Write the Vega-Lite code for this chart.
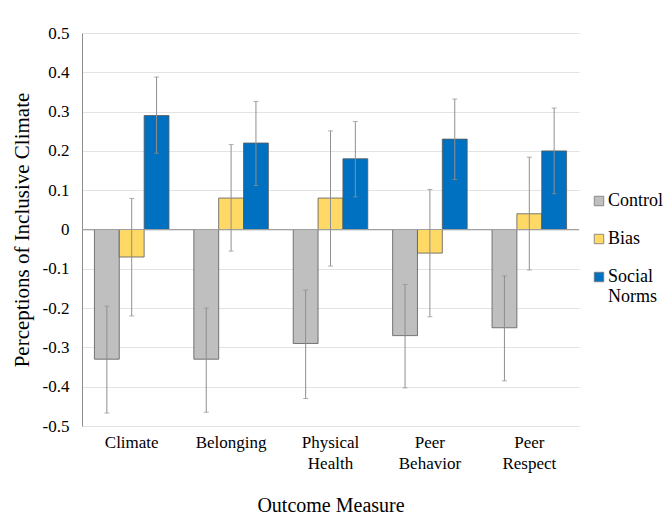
{
  "$schema": "https://vega.github.io/schema/vega-lite/v6.json",
  "width": 497,
  "height": 393,
  "autosize": {"type": "none"},
  "padding": {"left": 82, "top": 33, "right": 87, "bottom": 91},
  "background": "white",
  "config": {
    "font": "Liberation Serif",
    "view": {"stroke": null},
    "axis": {"labelFont": "Liberation Serif", "titleFont": "Liberation Serif", "labelColor": "#000", "titleColor": "#000", "titleFontWeight": "normal"},
    "legend": {"labelFont": "Liberation Serif", "labelColor": "#000"}
  },
  "resolve": {"axis": {"y": "independent"}},
  "data": {
    "values": [
      {"measure": "Climate", "cond": "Control", "value": -0.33, "lo": -0.467, "hi": -0.195},
      {"measure": "Climate", "cond": "Bias", "value": -0.07, "lo": -0.22, "hi": 0.079},
      {"measure": "Climate", "cond": "Social Norms", "value": 0.29, "lo": 0.194, "hi": 0.388},
      {"measure": "Belonging", "cond": "Control", "value": -0.33, "lo": -0.465, "hi": -0.2},
      {"measure": "Belonging", "cond": "Bias", "value": 0.08, "lo": -0.055, "hi": 0.216},
      {"measure": "Belonging", "cond": "Social Norms", "value": 0.22, "lo": 0.112, "hi": 0.326},
      {"measure": "Physical Health", "cond": "Control", "value": -0.29, "lo": -0.43, "hi": -0.154},
      {"measure": "Physical Health", "cond": "Bias", "value": 0.08, "lo": -0.093, "hi": 0.251},
      {"measure": "Physical Health", "cond": "Social Norms", "value": 0.18, "lo": 0.083, "hi": 0.275},
      {"measure": "Peer Behavior", "cond": "Control", "value": -0.27, "lo": -0.403, "hi": -0.14},
      {"measure": "Peer Behavior", "cond": "Bias", "value": -0.06, "lo": -0.222, "hi": 0.102},
      {"measure": "Peer Behavior", "cond": "Social Norms", "value": 0.23, "lo": 0.127, "hi": 0.332},
      {"measure": "Peer Respect", "cond": "Control", "value": -0.25, "lo": -0.385, "hi": -0.118},
      {"measure": "Peer Respect", "cond": "Bias", "value": 0.04, "lo": -0.103, "hi": 0.184},
      {"measure": "Peer Respect", "cond": "Social Norms", "value": 0.2, "lo": 0.091, "hi": 0.309}
    ]
  },
  "encoding": {
    "x": {
      "field": "measure",
      "type": "nominal",
      "sort": ["Climate", "Belonging", "Physical Health", "Peer Behavior", "Peer Respect"],
      "scale": {"paddingInner": 0.25, "paddingOuter": 0.125},
      "axis": {
        "title": "Outcome Measure",
        "titleFontSize": 20,
        "titlePadding": 24,
        "labelFontSize": 17,
        "labelAngle": 0,
        "labelPadding": 8,
        "labelLineHeight": 21,
        "labelExpr": "indexof(datum.label, ' ') > 0 ? split(datum.label, ' ') : datum.label",
        "domain": false,
        "ticks": false
      }
    },
    "xOffset": {"field": "cond", "type": "nominal", "sort": ["Control", "Bias", "Social Norms"]}
  },
  "layer": [
    {
      "mark": {"type": "bar", "stroke": "#5a5a5a", "strokeWidth": 1, "strokeOpacity": 0.8},
      "encoding": {
        "y": {
          "field": "value",
          "type": "quantitative",
          "scale": {"domain": [-0.5, 0.5], "nice": false},
          "axis": {
            "title": "Perceptions of Inclusive Climate",
            "titleFontSize": 21,
            "titlePadding": 10,
            "labelFontSize": 17,
            "labelPadding": 13,
            "labelOverlap": false,
            "labelFlush": false,
            "values": [-0.5, -0.4, -0.3, -0.2, -0.1, 0, 0.1, 0.2, 0.3, 0.4, 0.5],
            "labelExpr": "datum.value == 0 ? '0' : replace(format(datum.value, '.1f'), '\u2212', '-')",
            "ticks": false,
            "domain": true,
            "domainColor": "#8c8c8c",
            "grid": true,
            "gridColor": "#e3e3e3",
            "gridWidth": 1.2
          }
        },
        "color": {
          "field": "cond",
          "type": "nominal",
          "scale": {"domain": ["Control", "Bias", "Social Norms"], "range": ["#BFBFBF", "#FFD966", "#0070C0"]},
          "legend": {
            "title": null,
            "orient": "none",
            "legendX": 508,
            "legendY": 159,
            "symbolType": "square",
            "symbolSize": 90,
            "symbolStrokeColor": "#777",
            "symbolStrokeWidth": 0.8,
            "labelFontSize": 18,
            "labelOffset": 0,
            "rowPadding": 20,
            "labelExpr": "datum.label == 'Social Norms' ? ['Social', 'Norms'] : datum.label",
            "labelLimit": 200
          }
        }
      }
    },
    {
      "mark": {"type": "rule", "color": "#a0a0a0", "strokeWidth": 1},
      "encoding": {"y": {"datum": 0, "type": "quantitative", "axis": null}, "x": {}, "xOffset": {}}
    },
    {
      "mark": {"type": "rule", "color": "#8f8f8f", "strokeWidth": 1},
      "encoding": {
        "y": {"field": "lo", "type": "quantitative", "axis": null},
        "y2": {"field": "hi"}
      }
    },
    {
      "mark": {"type": "tick", "color": "#8f8f8f", "thickness": 1, "size": 5},
      "encoding": {"y": {"field": "lo", "type": "quantitative", "axis": null}}
    },
    {
      "mark": {"type": "tick", "color": "#8f8f8f", "thickness": 1, "size": 5},
      "encoding": {"y": {"field": "hi", "type": "quantitative", "axis": null}}
    }
  ]
}
